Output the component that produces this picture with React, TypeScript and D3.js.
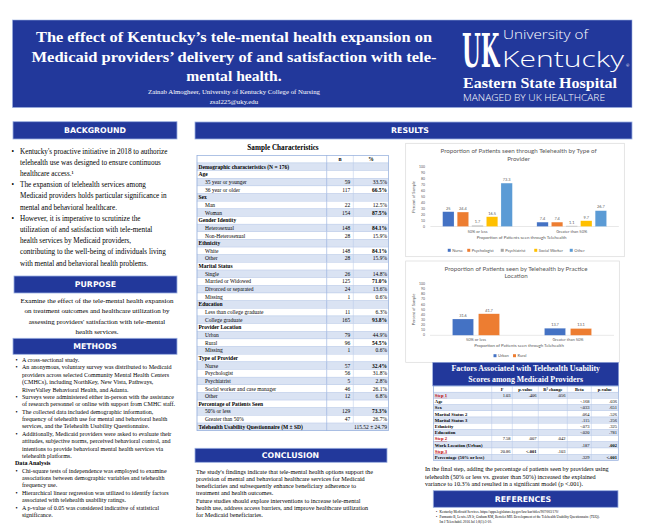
import React from 'react';
import * as d3 from 'd3';

const BLUE = '#22389b';
const SERIF = "'Liberation Serif', 'Times New Roman', serif";
const SANS = "Lato, 'Liberation Sans', sans-serif";
const HEAD = "'DejaVu Sans', sans-serif";
const GRAY = '#595959';

// ---------- chart data ----------
const groupLabels = ['50% or less', 'Greater than 50%'];
const providerTypes = ['Nurse', 'Psychologist', 'Psychiatrist', 'Social Worker', 'Other'];
const nurseValues = [25, 7.4];
const psychologistValues = [24.4, 7.4];
const psychiatristValues = [1.7, 1.1];
const socialWorkerValues = [16.5, 9.7];
const otherValues = [73.3, 26.7];
const providerColors = ['#4472C4', '#ED7D31', '#A5A5A5', '#FFC000', '#5B9BD5'];

const locationTypes = ['Urban', 'Rural'];
const urbanValues = [31.6, 13.7];
const ruralValues = [41.7, 13.1];
const locationColors = ['#4472C4', '#ED7D31'];

const percentTicks = [0, 10, 20, 30, 40, 50, 60, 70, 80, 90, 100];

// ---------- table data ----------
const sampleRows: [string, string, string, string][] = [
  ['', 'n', '%', 'h'],
  ['Demographic characteristics (N = 176)', '', '', 'c'],
  ['Age', '', '', 'c'],
  ['35 year or younger', '59', '33.5%', 'i'],
  ['36 year or older', '117', '66.5%', 'ib'],
  ['Sex', '', '', 'c'],
  ['Man', '22', '12.5%', 'i'],
  ['Woman', '154', '87.5%', 'ib'],
  ['Gender Identity', '', '', 'c'],
  ['Heterosexual', '148', '84.1%', 'ib'],
  ['Non-Heterosexual', '28', '15.9%', 'i'],
  ['Ethnicity', '', '', 'c'],
  ['White', '148', '84.1%', 'ib'],
  ['Other', '28', '15.9%', 'i'],
  ['Marital Status', '', '', 'c'],
  ['Single', '26', '14.8%', 'i'],
  ['Married or Widowed', '125', '71.0%', 'ib'],
  ['Divorced or separated', '24', '13.6%', 'i'],
  ['Missing', '1', '0.6%', 'i'],
  ['Education', '', '', 'c'],
  ['Less than college graduate', '11', '6.3%', 'i'],
  ['College graduate', '165', '93.8%', 'ib'],
  ['Provider Location', '', '', 'c'],
  ['Urban', '79', '44.9%', 'i'],
  ['Rural', '96', '54.5%', 'ib'],
  ['Missing', '1', '0.6%', 'i'],
  ['Type of Provider', '', '', 'c'],
  ['Nurse', '57', '32.4%', 'ib'],
  ['Psychologist', '56', '31.8%', 'i'],
  ['Psychiatrist', '5', '2.8%', 'i'],
  ['Social worker and case manager', '46', '26.1%', 'i'],
  ['Other', '12', '6.8%', 'i'],
  ['Percentage of Patients Seen', '', '', 'c'],
  ['50% or less', '129', '73.3%', 'ib'],
  ['Greater than 50%', '47', '26.7%', 'i'],
  ['Telehealth Usability Questionnaire (M \u00b1 SD)', '', '115.52 \u00b1 24.79', 't'],
];

const regHeader = ['', 'F', 'p-value', 'R\u00b2 change', 'Beta', 'p-value'];
const regLabels = ['Step 1', 'Age', 'Sex', 'Marital Status 2', 'Marital Status 3', 'Ethnicity', 'Education', 'Step 2', 'Work Location (Urban)', 'Step 3', 'Percentage (50% or less)'];
const regF = ['1.03', '', '', '', '', '', '', '7.58', '', '20.86', ''];
const regP = ['.406', '', '', '', '', '', '', '.007', '', '<.001', ''];
const regR2 = ['.056', '', '', '', '', '', '', '.042', '', '.103', ''];
const regBeta = ['', '-.168', '-.033', '.064', '.115', '-.073', '-.020', '', '.187', '', '.329'];
const regP2 = ['', '.036', '.651', '.526', '.256', '.325', '.781', '', '.002', '', '<.001'];

// ---------- text ----------
const backgroundLines: [string, boolean][] = [
  ["Kentucky's proactive initiative in 2018 to authorize", true],
  ['telehealth use was designed to ensure continuous', false],
  ['healthcare access.\u00b9', false],
  ['The expansion of telehealth services among', true],
  ['Medicaid providers holds particular significance in', false],
  ['mental and behavioral healthcare.', false],
  ['However, it is imperative to scrutinize the', true],
  ['utilization of and satisfaction with tele-mental', false],
  ['health services by Medicaid providers,', false],
  ['contributing to the well-being of individuals living', false],
  ['with mental and behavioral health problems.', false],
];
const purposeLines = [
  'Examine the effect of the tele-mental health expansion',
  'on treatment outcomes and healthcare utilization by',
  "assessing providers' satisfaction with tele-mental",
  'health services.',
];
const methodsLines: [string, string][] = [
  ['A cross-sectional study.', 'b'],
  ['An anonymous, voluntary survey was distributed to Medicaid', 'b'],
  ['providers across selected Community Mental Health Centers', 'c'],
  ['(CMHCs), including NorthKey, New Vista, Pathways,', 'c'],
  ['RiverValley Behavioral Health, and Adanta.', 'c'],
  ['Surveys were administered either in-person with the assistance', 'b'],
  ['of research personnel or online with support from CMHC staff.', 'c'],
  ['The collected data included demographic information,', 'b'],
  ['frequency of telehealth use for mental and behavioral health', 'c'],
  ['services, and the Telehealth Usability Questionnaire.', 'c'],
  ['Additionally, Medicaid providers were asked to evaluate their', 'b'],
  ['attitudes, subjective norms, perceived behavioral control, and', 'c'],
  ['intentions to provide behavioral mental health services via', 'c'],
  ['telehealth platforms.', 'c'],
  ['Data Analysis', 'h'],
  ['Chi-square tests of independence was employed to examine', 'b'],
  ['associations between demographic variables and telehealth', 'c'],
  ['frequency use.', 'c'],
  ['Hierarchical linear regression was utilized to identify factors', 'b'],
  ['associated with telehealth usability ratings.', 'c'],
  ['A p-value of 0.05 was considered indicative of statistical', 'b'],
  ['significance.', 'c'],
];
const conclusionLines = [
  "The study's findings indicate that tele-mental health options support the",
  'provision of mental and behavioral healthcare services for Medicaid',
  'beneficiaries and subsequently enhance beneficiary adherence to',
  'treatment and health outcomes.',
  'Future studies should explore interventions to increase tele-mental',
  'health use, address access barriers, and improve healthcare utilization',
  'for Medicaid beneficiaries.',
];
const finalStepLines = [
  'In the final step, adding the percentage of patients seen by providers using',
  'telehealth (50% or less vs. greater than 50%) increased the explained',
  'variance to 10.3% and resulted in a significant model (p <.001).',
];
const referenceLines: [string, boolean][] = [
  ['Kentucky Medicaid Services. https://apps.legislature.ky.gov/law/kar/titles/907/003/170/', true],
  ['Parmanto B, Lewis AN Jr, Graham KM, Bertolet MH. Development of the Telehealth Usability Questionnaire (TUQ).', true],
  ['Int J Telerehabil. 2016 Jul 1;8(1):3-10.', false],
];

function SectionHeader({ x, y, w, h, label, cx }: any) {
  return (
    <g>
      <rect x={x} y={y} width={w} height={h} fill={BLUE} stroke="#9aaee0" strokeWidth={0.8} />
      <text x={cx ?? x + w / 2} y={y + h / 2} dy="0.36em" textAnchor="middle" fill="#fff"
        fontFamily={HEAD} fontWeight="bold" fontSize={7.8}>{label}</text>
    </g>
  );
}

function GroupedBarChart({ box, titleLines, titleY, series, values, colors, xRange, yRange, padIn, padOut, xLabelY, xTitleY, legendY, legendCenter }: any) {
  const x0 = d3.scaleBand<string>().domain(groupLabels).range(xRange);
  const x1 = d3.scaleBand<string>().domain(series).range([0, x0.bandwidth()]).paddingInner(padIn).paddingOuter(padOut);
  const y = d3.scaleLinear().domain([0, 100]).range(yRange);
  const fs = 4;
  const widths = series.map((s: string) => 3 + 1.5 + s.length * fs * 0.5 + 5);
  const total = d3.sum(widths) - 5;
  let acc = legendCenter - total / 2;
  const legendX = widths.map((w: number) => { const v = acc; acc += w; return v; });
  return (
    <g fontFamily={SANS}>
      <rect x={box[0]} y={box[1]} width={box[2]} height={box[3]} fill="#fff" stroke="#d9d9d9" strokeWidth={0.7} />
      {titleLines.map((t: string, i: number) => (
        <text key={i} x={(xRange[0] + xRange[1]) / 2 - 6} y={titleY + i * 7.8} textAnchor="middle" fontSize={6.2} fill={GRAY}>{t}</text>
      ))}
      {percentTicks.map((t) => (
        <text key={t} x={425} y={y(t)} dy="0.35em" textAnchor="end" fontSize={3.4} fill={GRAY}>{t}</text>
      ))}
      <text transform={`translate(415,${(yRange[0] + yRange[1]) / 2}) rotate(-90)`} textAnchor="middle" fontSize={4} fill={GRAY}>Percent of Sample</text>
      <line x1={xRange[0]} x2={xRange[1]} y1={yRange[0]} y2={yRange[0]} stroke="#d9d9d9" strokeWidth={0.6} />
      {groupLabels.map((g, gi) => (
        <g key={g}>
          {series.map((s: string, si: number) => {
            const v = values[si][gi];
            const bx = (x0(g) as number) + (x1(s) as number);
            return (
              <g key={s}>
                <rect x={bx} y={y(v)} width={x1.bandwidth()} height={yRange[0] - y(v)} fill={colors[si]} stroke="#ffffff" strokeOpacity={0.5} strokeWidth={0.4} />
                <text x={bx + x1.bandwidth() / 2} y={y(v) - 2.2} textAnchor="middle" fontSize={3.9} fill={GRAY}>{String(v)}</text>
              </g>
            );
          })}
          <text x={(x0(g) as number) + x0.bandwidth() / 2} y={xLabelY} textAnchor="middle" fontSize={4} fill={GRAY}>{g}</text>
        </g>
      ))}
      <text x={(xRange[0] + xRange[1]) / 2 - 3} y={xTitleY} textAnchor="middle" fontSize={4.4} fill={GRAY}>Proportion of Patients seen through Telehealth</text>
      {series.map((s: string, i: number) => (
        <g key={s}>
          <rect x={legendX[i]} y={legendY - 1.5} width={3} height={3} fill={colors[i]} />
          <text x={legendX[i] + 4.5} y={legendY} dy="0.35em" fontSize={fs} fill={GRAY}>{s}</text>
        </g>
      ))}
    </g>
  );
}

function SampleTable() {
  const x0 = 197, x1 = 326.7, x2 = 353.3, x3 = 388.5;
  const rowY = d3.scaleLinear().domain([0, 1]).range([155.3, 155.3 + 7.65]);
  const rh = 7.65;
  return (
    <g fontFamily={SERIF} fontSize={5.5}>
      <text x={283} y={149.5} textAnchor="middle" fontWeight="bold" fontSize={7.2}>Sample Characteristics</text>
      {sampleRows.map((r, i) => {
        const top = rowY(i);
        const cy = top + rh / 2 + 1.9;
        const [label, n, pct, kind] = r;
        const fill = i % 2 === 1 ? '#dae3f3' : '#ffffff';
        const boldLabel = kind === 'c' || kind === 't';
        return (
          <g key={i}>
            <rect x={x0} y={top} width={x3 - x0} height={rh} fill={fill} stroke="#b4c6e7" strokeWidth={0.4} />
            <line x1={x1} x2={x1} y1={top} y2={top + rh} stroke="#8eaadb" strokeWidth={0.6} />
            {kind !== 't' && <line x1={x2} x2={x2} y1={top} y2={top + rh} stroke="#b4c6e7" strokeWidth={0.5} />}
            <text x={boldLabel ? x0 + 1.5 : x0 + 8} y={cy} fontWeight={boldLabel ? 'bold' : 'normal'}>{label}</text>
            {kind === 'h' ? (
              <>
                <text x={(x1 + x2) / 2} y={cy} textAnchor="middle" fontWeight="bold">{n}</text>
                <text x={(x2 + x3) / 2} y={cy} textAnchor="middle" fontWeight="bold">{pct}</text>
              </>
            ) : (
              <>
                <text x={x2 - 3} y={cy} textAnchor="end">{n}</text>
                <text x={x3 - 1.5} y={cy} textAnchor="end" fontWeight={kind === 'ib' ? 'bold' : 'normal'}>{pct}</text>
              </>
            )}
          </g>
        );
      })}
      <rect x={x0} y={rowY(0)} width={x3 - x0} height={rh * sampleRows.length} fill="none" stroke="#8eaadb" strokeWidth={0.6} />
    </g>
  );
}

function RegressionTable() {
  const cols = [433.3, 491.7, 512.3, 538.3, 567.3, 591.3, 618.7];
  const rh = 6.2;
  const top0 = 386;
  const rowTop = (i: number) => top0 + i * rh;
  const cells = [regF, regP, regR2, regBeta, regP2];
  const boldCell = (ci: number, v: string) => (ci === 4 && (v === '.002' || v === '<.001')) || (ci === 1 && v === '<.001');
  return (
    <g fontFamily={SERIF}>
      <rect x={432.7} y={362.3} width={186} height={23.7} fill={BLUE} stroke="#9aaee0" strokeWidth={0.6} />
      <text x={525.7} y={371} textAnchor="middle" fill="#fff" fontWeight="bold" fontSize={7.9}>Factors Associated with Telehealth Usability</text>
      <text x={525.7} y={382} textAnchor="middle" fill="#fff" fontWeight="bold" fontSize={7.9}>Scores among Medicaid Providers</text>
      <rect x={cols[0]} y={rowTop(0)} width={cols[6] - cols[0]} height={rh} fill="#fff" stroke="#8eaadb" strokeWidth={0.5} />
      {regHeader.map((h, ci) => ci > 0 && (
        <text key={ci} x={(cols[ci] + cols[ci + 1]) / 2} y={rowTop(0) + rh / 2 + 1.6} textAnchor="middle" fontWeight="bold" fontSize={4.5}>{h}</text>
      ))}
      {regLabels.map((l, i) => {
        const top = rowTop(i + 1);
        const isStep = l.startsWith('Step');
        const cy = top + rh / 2 + 1.6;
        return (
          <g key={i}>
            <rect x={cols[0]} y={top} width={cols[6] - cols[0]} height={rh} fill={i % 2 === 0 ? '#dae3f3' : '#ffffff'} stroke="#b4c6e7" strokeWidth={0.4} />
            <text x={cols[0] + 1.5} y={cy} fontWeight="bold" fontSize={4.7} fill={isStep ? '#c00000' : '#000'} textDecoration={isStep ? 'underline' : 'none'}>{l}</text>
            {cells.map((arr, ci) => (
              <text key={ci} x={cols[ci + 2] - 1.8} y={cy} textAnchor="end" fontSize={4.5} fontWeight={boldCell(ci, arr[i]) ? 'bold' : 'normal'}>{arr[i]}</text>
            ))}
          </g>
        );
      })}
      {cols.slice(1, 6).map((c, i) => (
        <line key={i} x1={c} x2={c} y1={rowTop(0)} y2={rowTop(regLabels.length + 1)} stroke="#b4c6e7" strokeWidth={0.5} />
      ))}
      <rect x={cols[0]} y={rowTop(0)} width={cols[6] - cols[0]} height={rh * (regLabels.length + 1)} fill="none" stroke="#8eaadb" strokeWidth={0.5} />
    </g>
  );
}

export default function App() {
  const LOGO = "'Open Sans', Lato, sans-serif";
  return (
    <svg width={650} height={532} style={{ position: 'absolute', left: 0, top: 0, background: '#fff' }} fontFamily={SERIF}>
      <rect x={0} y={0} width={650} height={532} fill="#fff" />
      {/* Header */}
      <rect x={12.5} y={20} width={619.5} height={87.5} fill={BLUE} stroke="#9aaee0" strokeWidth={0.6} />
      <g fill="#fff" fontWeight="bold" textAnchor="middle" fontSize={15.6}>
        <text x={234} y={42} textLength={396} lengthAdjust="spacingAndGlyphs">The effect of Kentucky’s tele-mental health expansion on</text>
        <text x={234} y={61.5} textLength={405} lengthAdjust="spacingAndGlyphs">Medicaid providers’ delivery of and satisfaction with tele-</text>
        <text x={234} y={80.5}>mental health.</text>
      </g>
      <text x={234} y={94} textAnchor="middle" fill="#fff" fontSize={6.8}>Zainab Almogheer, University of Kentucky College of Nursing</text>
      <text x={234} y={103.5} textAnchor="middle" fill="#fff" fontSize={6.8}>zsal225@uky.edu</text>
      {/* Logo */}
      <g>
        <text transform="translate(462,67) scale(1,2.15)" x={0} y={0} fill="#fff" fontFamily="'DejaVu Serif', serif" fontWeight="bold" fontSize={21.5}>UK</text>
        <text x={503} y={39} fill="#fff" fontFamily={LOGO} fontWeight={300} fontSize={12} textLength={85} lengthAdjust="spacingAndGlyphs">University of</text>
        <text x={502} y={67} fill="#fff" fontFamily={LOGO} fontWeight={300} fontSize={22.5} textLength={122} lengthAdjust="spacingAndGlyphs">Kentucky</text>
        <text x={626} y={67} fill="#fff" fontFamily={SANS} fontSize={4}>®</text>
        <text x={463} y={88} fill="#fff" fontWeight="bold" fontSize={14.5} textLength={154} lengthAdjust="spacingAndGlyphs">Eastern State Hospital</text>
        <text x={463} y={100.5} fill="#fff" fontFamily={LOGO} fontWeight={300} fontSize={9} textLength={142} lengthAdjust="spacingAndGlyphs">MANAGED BY UK HEALTHCARE</text>
      </g>

      {/* Left column */}
      <SectionHeader x={13} y={121.7} w={164} h={17.3} label="BACKGROUND" />
      <g fontSize={7.2}>
        {backgroundLines.map(([t, b], i) => (
          <g key={i}>
            {b && <text x={11.5} y={153.5 + i * 11.2}>•</text>}
            <text x={20} y={153.5 + i * 11.2}>{t}</text>
          </g>
        ))}
      </g>
      <SectionHeader x={14} y={276} w={163} h={17} label="PURPOSE" />
      <g fontSize={7} textAnchor="middle">
        {purposeLines.map((t, i) => (
          <text key={i} x={97} y={302.5 + i * 10.6}>{t}</text>
        ))}
      </g>
      <SectionHeader x={13} y={338.3} w={164} h={16} label="METHODS" />
      <g fontSize={6.05}>
        {methodsLines.map(([t, k], i) => (
          <g key={i}>
            {k === 'b' && <text x={15.5} y={362 + i * 7.38}>•</text>}
            <text x={k === 'h' ? 15 : 22} y={362 + i * 7.38} fontWeight={k === 'h' ? 'bold' : 'normal'}>{t}</text>
          </g>
        ))}
      </g>

      {/* Results */}
      <SectionHeader x={195} y={122} w={437} h={17} label="RESULTS" cx={410} />
      <SampleTable />
      <GroupedBarChart
        box={[405.7, 143.3, 218.6, 113.4]}
        titleLines={['Proportion of Patients seen through Telehealth by Type of', 'Provider']}
        titleY={153.2}
        series={providerTypes}
        values={[nurseValues, psychologistValues, psychiatristValues, socialWorkerValues, otherValues]}
        colors={providerColors}
        xRange={[430.4, 618.8]}
        yRange={[226.5, 167.3]}
        padIn={0.22}
        padOut={0.84}
        xLabelY={233.2}
        xTitleY={239.3}
        legendY={250.3}
        legendCenter={516}
      />
      <GroupedBarChart
        box={[405.7, 261, 213.6, 101.3]}
        titleLines={['Proportion of Patients seen by Telehealth by Practice', 'Location']}
        titleY={270.5}
        series={locationTypes}
        values={[urbanValues, ruralValues]}
        colors={locationColors}
        xRange={[430, 614]}
        yRange={[335.3, 283.7]}
        padIn={0.19}
        padOut={0.864}
        xLabelY={341.2}
        xTitleY={346.9}
        legendY={355.7}
        legendCenter={510.5}
      />
      <RegressionTable />
      <g fontSize={6.2}>
        {finalStepLines.map((t, i) => (
          <text key={i} x={425} y={471 + i * 7.5}>{t}</text>
        ))}
      </g>
      <SectionHeader x={433.3} y={490.7} w={184.7} h={16.6} label="REFERENCES" cx={523} />
      <g fontSize={3.4}>
        {referenceLines.map(([t, b], i) => (
          <g key={i}>
            {b && <text x={436} y={512.8 + i * 5.3}>•</text>}
            <text x={439.5} y={512.8 + i * 5.3}>{t}</text>
          </g>
        ))}
      </g>

      <SectionHeader x={195} y={448.3} w={192} h={14} label="CONCLUSION" cx={290.5} />
      <g fontSize={6.2}>
        {conclusionLines.map((t, i) => (
          <text key={i} x={196} y={473.5 + i * 7.3}>{t}</text>
        ))}
      </g>
    </svg>
  );
}
